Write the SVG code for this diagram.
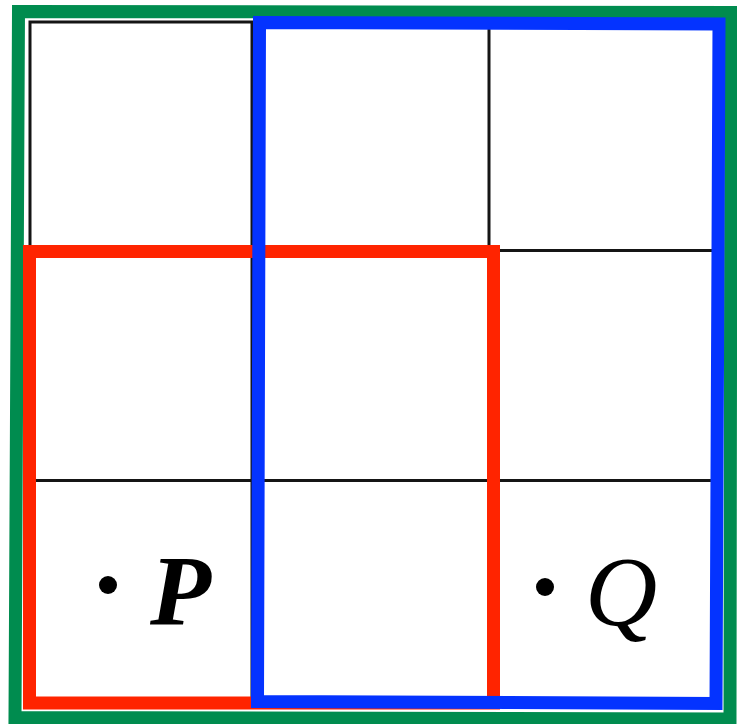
<svg xmlns="http://www.w3.org/2000/svg" width="737" height="724" viewBox="0 0 737 724">
<style>
.grid{fill:none;stroke:#151515;stroke-width:3}
.frame{fill:none;stroke-width:13;stroke-linejoin:miter}
.lbl{font-family:"Liberation Serif","DejaVu Serif",serif;font-style:italic;font-size:100px;fill:#000}
</style>
<rect width="737" height="724" fill="#fff"/>
<g id="grid">
<rect class="grid" x="30" y="22" width="686" height="681"/>
<line class="grid" x1="252" y1="22" x2="252" y2="703"/>
<line class="grid" x1="489" y1="22" x2="489" y2="703"/>
<line class="grid" x1="30" y1="250.5" x2="716" y2="250.5"/>
<line class="grid" x1="30" y1="480.5" x2="716" y2="480.5"/>
</g>
<g id="green-frame">
<polygon class="frame" stroke="#008C4F" points="18.5,11.5 731,12.5 730,719 15,717.5"/>
</g>
<g id="red-frame">
<rect class="frame" stroke="#FF2400" x="29.5" y="251.5" width="464" height="451.5"/>
</g>
<g id="blue-frame">
<polygon class="frame" stroke="#0433FF" points="259.5,22.5 719,24 716,703.5 257.5,701.5"/>
</g>
<g id="point-P">
<circle cx="108" cy="585" r="9" fill="#000"/>
<text class="lbl" x="150" y="624" font-weight="bold">P</text>
</g>
<g id="point-Q">
<circle cx="545" cy="587" r="9" fill="#000"/>
<text class="lbl" x="585" y="625">Q</text>
</g>
</svg>
